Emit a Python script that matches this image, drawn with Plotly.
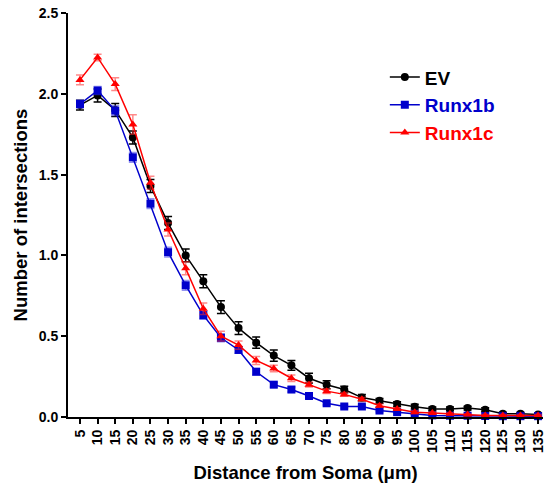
import plotly.graph_objects as go

distance = [5, 10, 15, 20, 25, 30, 35, 40, 45, 50, 55, 60, 65, 70, 75, 80, 85, 90, 95, 100, 105, 110, 115, 120, 125, 130, 135]

ev = [1.93, 1.99, 1.90, 1.73, 1.43, 1.20, 1.00, 0.84, 0.68, 0.55, 0.46, 0.38, 0.32, 0.24, 0.20, 0.17, 0.12, 0.10, 0.08, 0.064, 0.05, 0.05, 0.055, 0.045, 0.02, 0.02, 0.015]
ev_err = [0.03, 0.04, 0.04, 0.04, 0.04, 0.04, 0.04, 0.04, 0.04, 0.04, 0.035, 0.035, 0.03, 0.03, 0.025, 0.02, 0.02, 0.015, 0.015, 0.015, 0.012, 0.012, 0.012, 0.012, 0.01, 0.01, 0.01]

runx1b = [1.937, 2.02, 1.896, 1.607, 1.32, 1.02, 0.815, 0.63, 0.49, 0.415, 0.28, 0.20, 0.17, 0.13, 0.085, 0.065, 0.065, 0.04, 0.03, 0.02, 0.01, 0.008, 0.008, 0.006, 0.005, 0.005, 0.005]
runx1b_err = [0.025, 0.025, 0.03, 0.03, 0.03, 0.03, 0.03, 0.025, 0.025, 0.02, 0.02, 0.015, 0.015, 0.012, 0.01, 0.01, 0.01, 0.008, 0.008, 0.006, 0.005, 0.005, 0.005, 0.004, 0.004, 0.004, 0.004]

runx1c = [2.086, 2.225, 2.06, 1.81, 1.45, 1.16, 0.92, 0.67, 0.50, 0.445, 0.35, 0.30, 0.24, 0.20, 0.16, 0.14, 0.11, 0.07, 0.05, 0.03, 0.025, 0.02, 0.015, 0.01, 0.01, 0.01, 0.01]
runx1c_err = [0.03, 0.02, 0.04, 0.06, 0.04, 0.04, 0.04, 0.035, 0.03, 0.025, 0.025, 0.02, 0.02, 0.015, 0.015, 0.012, 0.01, 0.01, 0.008, 0.008, 0.006, 0.006, 0.005, 0.005, 0.005, 0.005, 0.005]

FONT = "Arial, 'Liberation Sans', sans-serif"

fig = go.Figure()

series = [
    ("EV", ev, ev_err, "black", "rgba(0,0,0,1)", "circle", 8),
    ("Runx1b", runx1b, runx1b_err, "#0000CC", "rgba(60,60,230,0.55)", "square", 8),
    ("Runx1c", runx1c, runx1c_err, "#FF0000", "rgba(255,40,40,0.55)", "triangle-up", 8),
]

for name, vals, errs, col, ecol, sym, msz in series:
    fig.add_trace(go.Scatter(
        x=distance, y=vals,
        mode="lines+markers",
        name=f"<b><span style='color:{col}'>{name}</span></b>",
        legendgroup=name,
        line=dict(color=col, width=1.5),
        marker=dict(symbol=sym, size=msz, color=col),
        error_y=dict(type="data", array=errs, visible=True, color=ecol, thickness=1.5, width=4),
        cliponaxis=False,
    ))

fig.update_layout(
    width=546, height=488,
    margin=dict(l=68, r=0, t=13, b=71),
    plot_bgcolor="white", paper_bgcolor="white",
    font=dict(family=FONT, color="black"),
    showlegend=True,
    legend=dict(
        x=0.667, y=0.888, xanchor="left", yanchor="top",
        font=dict(size=19, family=FONT),
        bgcolor="rgba(0,0,0,0)",
        tracegroupgap=0,
        itemwidth=30,
    ),
    xaxis=dict(
        range=[1.6, 136.4],
        tickmode="array", tickvals=distance, ticktext=[str(d) for d in distance],
        tickangle=-90,
        ticks="outside", ticklen=5, tickwidth=1.5, tickcolor="black",
        showline=True, linecolor="black", linewidth=2,
        showgrid=False, zeroline=False,
        ticklabeloverflow="allow",
        tickfont=dict(size=14, family=FONT, weight="bold"),
        title=dict(text="<b>Distance from Soma (μm)</b>", font=dict(size=18.5, family=FONT), standoff=14),
    ),
    yaxis=dict(
        range=[0, 2.5],
        tickmode="array", tickvals=[0, 0.5, 1.0, 1.5, 2.0, 2.5],
        ticktext=["0.0", "0.5", "1.0", "1.5", "2.0", "2.5"],
        ticks="outside", ticklen=5, tickwidth=1.5, tickcolor="black",
        showline=True, linecolor="black", linewidth=2,
        showgrid=False, zeroline=False,
        tickfont=dict(size=14, family=FONT, weight="bold"),
        title=dict(text="<b>Number of intersections</b>", font=dict(size=18.5, family=FONT), standoff=6),
    ),
)

fig.write_html("out.html")
